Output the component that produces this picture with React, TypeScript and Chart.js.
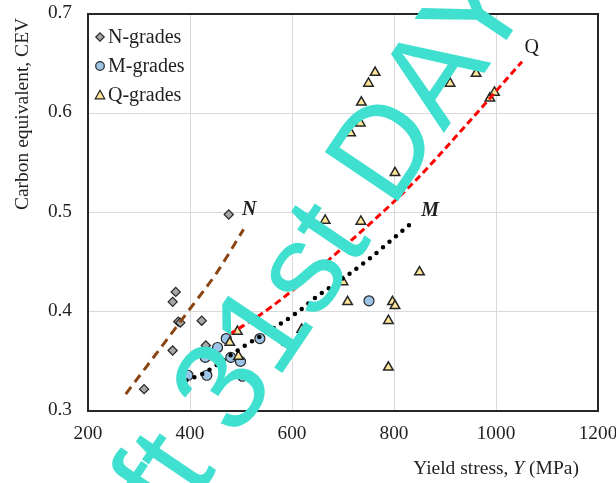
import React, { useEffect, useRef } from "react";
import { Chart, registerables } from "chart.js";

Chart.register(...registerables);

// ---- data ----
const N_YIELD = [310, 366, 366, 372, 377, 381, 423, 431, 476];
const N_CEV = [0.322, 0.361, 0.41, 0.42, 0.39, 0.389, 0.391, 0.366, 0.498];

const M_YIELD = [396, 430, 433, 454, 471, 480, 499, 503, 537, 751];
const M_CEV = [0.336, 0.354, 0.336, 0.364, 0.373, 0.354, 0.35, 0.335, 0.373, 0.411];

const Q_YIELD = [478, 493, 495, 590, 619, 665, 700, 709, 715, 734, 735, 736, 750, 763, 789, 789, 797, 802, 802, 850, 910, 961, 988, 997];
const Q_CEV = [0.369, 0.38, 0.355, 0.369, 0.382, 0.492, 0.43, 0.41, 0.58, 0.59, 0.491, 0.611, 0.63, 0.641, 0.391, 0.344, 0.41, 0.406, 0.54, 0.44, 0.63, 0.64, 0.615, 0.621];

const N_TREND_X = [274, 400, 452, 505];
const N_TREND_Y = [0.317, 0.403, 0.439, 0.483];

const M_TREND_X = [393, 427, 465, 505, 547, 612, 648, 701, 753, 815, 841];
const M_TREND_Y = [0.331, 0.338, 0.351, 0.365, 0.378, 0.4, 0.415, 0.434, 0.454, 0.481, 0.492];

const Q_TREND_X = [477, 557, 694, 838, 936, 1051];
const Q_TREND_Y = [0.377, 0.404, 0.462, 0.53, 0.585, 0.652];

const X_TICKS = [200, 400, 600, 800, 1000, 1200];
const Y_TICKS = [0.3, 0.4, 0.5, 0.6, 0.7];

const SERIES_NAMES = ["N-grades", "M-grades", "Q-grades"];
const TREND_NAMES = ["N", "M", "Q"];
const TREND_LABEL_X = [516, 871, 1070];
const TREND_LABEL_Y = [0.5025, 0.5015, 0.6657];

const X_TITLE = ["Yield stress, ", "Y", " (MPa)"];
const Y_TITLE = "Carbon equivalent, CEV";
const WATERMARK_HEAD = "Draft 31st ";
const WATERMARK_TAIL = "DAY";

const SERIF = "'Liberation Serif', 'Times New Roman', serif";
const FS_TICK = 19.3;
const FS_TITLE = 19.5;
const FS_LEGEND = 20;
const TEXT = "#1f1f1f";

const N_FILL = "#a6a6a6";
const M_FILL = "#9dc3e6";
const Q_FILL = "#ffe699";

const zip = (xs: number[], ys: number[]) => xs.map((x, i) => ({ x, y: ys[i] }));

function drawMarker(ctx: CanvasRenderingContext2D, kind: number, x: number, y: number) {
  ctx.save();
  ctx.lineWidth = 1.2;
  ctx.strokeStyle = "#262626";
  ctx.beginPath();
  if (kind === 0) {
    const r = 4.2;
    ctx.moveTo(x, y - r);
    ctx.lineTo(x + r, y);
    ctx.lineTo(x, y + r);
    ctx.lineTo(x - r, y);
    ctx.closePath();
    ctx.fillStyle = N_FILL;
  } else if (kind === 1) {
    ctx.arc(x, y, 4.3, 0, Math.PI * 2);
    ctx.fillStyle = M_FILL;
  } else {
    const r = 4.8;
    ctx.moveTo(x, y - r);
    ctx.lineTo(x + r, y + r * 0.8);
    ctx.lineTo(x - r, y + r * 0.8);
    ctx.closePath();
    ctx.fillStyle = Q_FILL;
  }
  ctx.fill();
  ctx.stroke();
  ctx.restore();
}

const decorPlugin = {
  id: "decor",
  afterDatasetsDraw(chart: any) {
    const { ctx, chartArea: a, scales } = chart;
    const xs = scales.x;
    const ys = scales.y;
    ctx.save();
    // plot frame
    ctx.strokeStyle = "#262626";
    ctx.lineWidth = 2;
    ctx.strokeRect(a.left, a.top, a.right - a.left, a.bottom - a.top);

    // legend inside the plot
    const rows = [37, 66, 95];
    ctx.font = `${FS_LEGEND}px ${SERIF}`;
    ctx.textBaseline = "middle";
    ctx.textAlign = "left";
    SERIES_NAMES.forEach((name, i) => {
      drawMarker(ctx, i, 100, rows[i]);
      ctx.fillStyle = TEXT;
      ctx.fillText(name, 108, rows[i] + 1);
    });

    // trend-line labels
    ctx.fillStyle = TEXT;
    TREND_NAMES.forEach((name, i) => {
      const px = xs.getPixelForValue(TREND_LABEL_X[i]);
      const py = ys.getPixelForValue(TREND_LABEL_Y[i]);
      ctx.font = i < 2 ? `italic bold ${FS_LEGEND}px ${SERIF}` : `${FS_LEGEND}px ${SERIF}`;
      ctx.textAlign = "center";
      ctx.fillText(name, px, py);
    });

    // y title
    ctx.save();
    ctx.translate(23, 114);
    ctx.rotate(-Math.PI / 2);
    ctx.font = `${FS_TITLE}px ${SERIF}`;
    ctx.textAlign = "center";
    ctx.fillText(Y_TITLE, 0, 0);
    ctx.restore();

    // x title with italic Y
    const fonts = [`${FS_TITLE}px ${SERIF}`, `italic ${FS_TITLE}px ${SERIF}`, `${FS_TITLE}px ${SERIF}`];
    let total = 0;
    const widths = X_TITLE.map((t, i) => {
      ctx.font = fonts[i];
      const w = ctx.measureText(t).width;
      total += w;
      return w;
    });
    let cx = 496 - total / 2;
    ctx.textAlign = "left";
    X_TITLE.forEach((t, i) => {
      ctx.font = fonts[i];
      ctx.fillText(t, cx, 469);
      cx += widths[i];
    });
    ctx.restore();
  },
  afterDraw(chart: any) {
    const { ctx } = chart;
    ctx.save();
    ctx.translate(392, 210);
    ctx.rotate((-56 * Math.PI) / 180);
    ctx.font = "128px 'Liberation Sans', Arial, sans-serif";
    ctx.fillStyle = "#40e0d0";
    ctx.textBaseline = "alphabetic";
    ctx.textAlign = "left";
    ctx.fillText(WATERMARK_TAIL, 0, 0);
    ctx.textAlign = "right";
    ctx.fillText(WATERMARK_HEAD, 0, 0);
    ctx.restore();
  },
};

export default function App() {
  const ref = useRef<HTMLCanvasElement | null>(null);

  useEffect(() => {
    if (!ref.current) return;
    const scatterBase = { showLine: false, borderWidth: 1.2, borderColor: "#262626" };
    const chart = new Chart(ref.current, {
      type: "scatter",
      data: {
        datasets: [
          { ...scatterBase, label: SERIES_NAMES[0], data: zip(N_YIELD, N_CEV), pointStyle: "rectRot", pointRadius: 4.6, backgroundColor: N_FILL, order: 3 },
          { ...scatterBase, label: SERIES_NAMES[1], data: zip(M_YIELD, M_CEV), pointStyle: "circle", pointRadius: 5, backgroundColor: M_FILL, order: 2 },
          { ...scatterBase, label: SERIES_NAMES[2], data: zip(Q_YIELD, Q_CEV), pointStyle: "triangle", pointRadius: 5.5, backgroundColor: Q_FILL, borderWidth: 1.5, order: 1 },
          { label: "N trend", data: zip(N_TREND_X, N_TREND_Y), showLine: true, pointRadius: 0, borderColor: "#8b4513", borderWidth: 3, borderDash: [9, 6], cubicInterpolationMode: "monotone", order: 0 },
          { label: "M trend", data: zip(M_TREND_X, M_TREND_Y), showLine: true, pointRadius: 0, borderColor: "#000000", borderWidth: 4.5, borderDash: [0, 8.5], borderCapStyle: "round", cubicInterpolationMode: "monotone", order: 0 },
          { label: "Q trend", data: zip(Q_TREND_X, Q_TREND_Y), showLine: true, pointRadius: 0, borderColor: "#ff0000", borderWidth: 3, borderDash: [7, 4], cubicInterpolationMode: "monotone", order: 0 },
        ],
      },
      options: {
        animation: false,
        responsive: false,
        devicePixelRatio: 1,
        layout: { padding: { left: 0, right: 18, top: 14, bottom: 0 } },
        plugins: { legend: { display: false }, tooltip: { enabled: false } },
        scales: {
          x: {
            type: "linear", min: 200, max: 1200,
            afterBuildTicks: (s: any) => { s.ticks = X_TICKS.map((v) => ({ value: v })); },
            afterFit: (s: any) => { s.height = 72; s.paddingLeft = 0; s.paddingRight = 0; },
            ticks: { color: TEXT, font: { family: SERIF, size: FS_TICK }, padding: 11, maxRotation: 0, autoSkip: false, callback: (v: any) => String(v) },
            grid: { color: "#d9d9d9", lineWidth: 1, drawTicks: false },
            border: { display: false },
          },
          y: {
            type: "linear", min: 0.3, max: 0.7,
            afterBuildTicks: (s: any) => { s.ticks = Y_TICKS.map((v) => ({ value: v })); },
            afterFit: (s: any) => { s.width = 88; s.paddingTop = 0; s.paddingBottom = 0; },
            ticks: { color: TEXT, font: { family: SERIF, size: FS_TICK }, padding: 16, labelOffset: -1, callback: (v: any) => Number(v).toFixed(1) },
            grid: { color: "#d9d9d9", lineWidth: 1, drawTicks: false },
            border: { display: false },
          },
        },
      },
      plugins: [decorPlugin],
    } as any);
    return () => chart.destroy();
  }, []);

  return (
    <div style={{ position: "fixed", left: 0, top: 0, width: 616, height: 483, background: "#fff" }}>
      <canvas ref={ref} width={616} height={483} style={{ display: "block" }} />
    </div>
  );
}
